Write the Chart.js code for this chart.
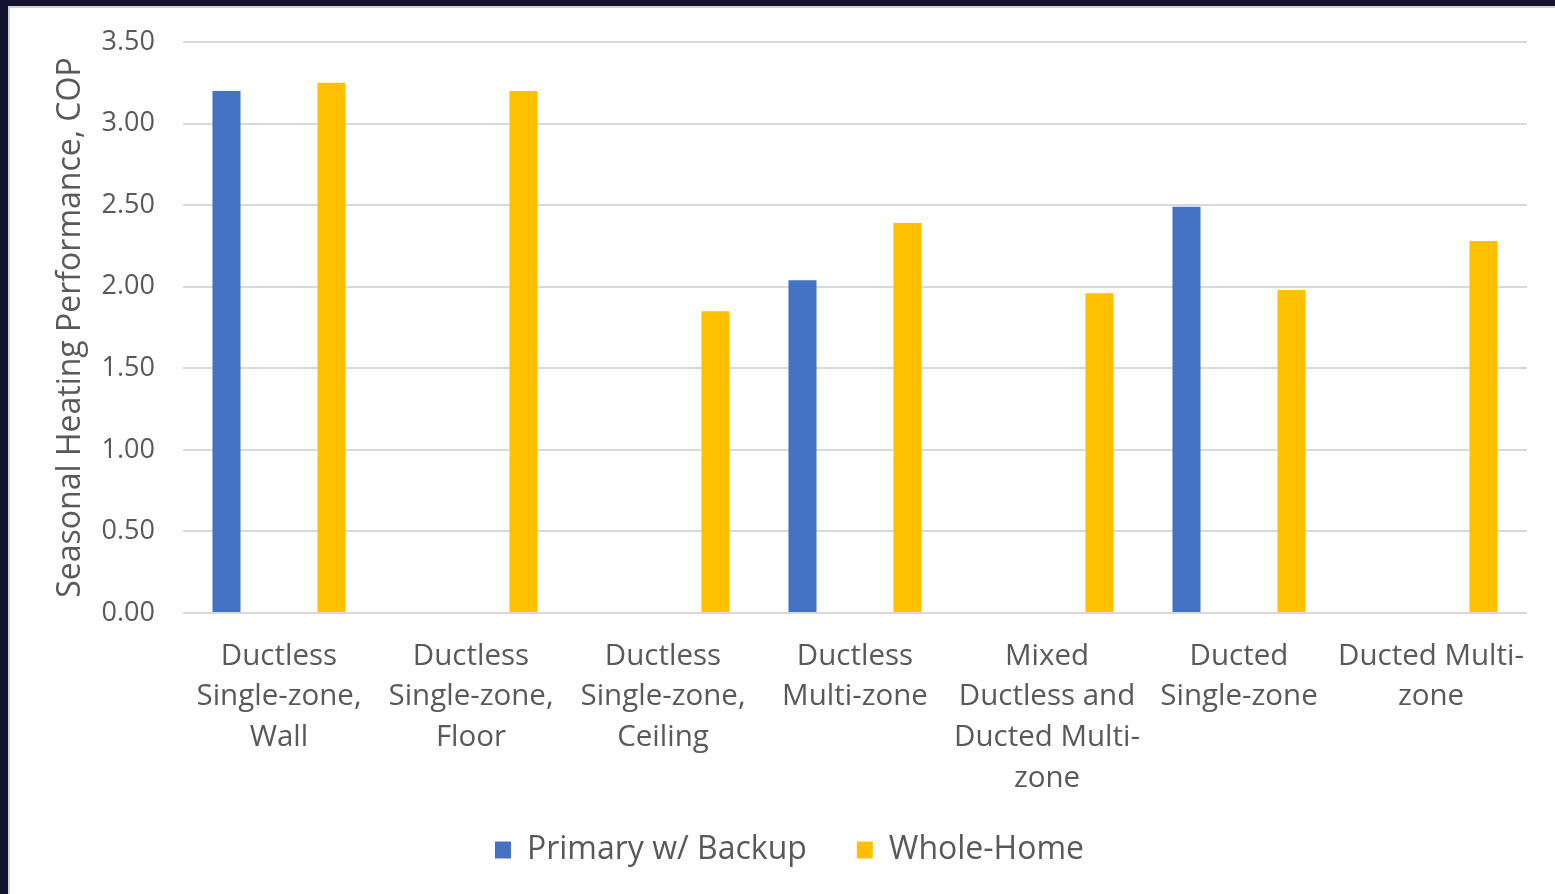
<!DOCTYPE html>
<html>
<head>
<meta charset="utf-8">
<script src="https://cdn.jsdelivr.net/npm/chart.js@4.4.1/dist/chart.umd.min.js"></script>
<style>
  html, body { margin: 0; padding: 0; background: #13132f; overflow: hidden; }
  #frame {
    position: absolute; left: 8px; top: 6px;
    width: 1545px; height: 886px;
    background: #fff;
    border-left: 2px solid #d4d4d8; border-top: 2px solid #d4d4d8;
  }
</style>
</head>
<body>
<div id="frame"><canvas id="myChart" width="1545" height="886"></canvas></div>
<script>
var categories = [
  ["Ductless", "Single-zone,", "Wall"],
  ["Ductless", "Single-zone,", "Floor"],
  ["Ductless", "Single-zone,", "Ceiling"],
  ["Ductless", "Multi-zone"],
  ["Mixed", "Ductless and", "Ducted Multi-", "zone"],
  ["Ducted", "Single-zone"],
  ["Ducted Multi-", "zone"]
];
var primaryBackup = [3.20, null, null, 2.04, null, 2.49, null];
var wholeHome = [3.25, 3.20, 1.85, 2.39, 1.96, 1.98, 2.28];
var yTicks = [0, 0.5, 1, 1.5, 2, 2.5, 3, 3.5];

var textColor = "#595959";
var fontName = "'Open Sans', sans-serif";

// x labels run past the axis box, so don't let the scale clip them
var labelRoom = {
  id: "labelRoom",
  afterLayout: function (chart) {
    chart.scales.x.bottom = chart.height;
  },
};

createChart();

function createChart() {
  const ctx = document.getElementById("myChart");
  new Chart(ctx, {
    type: "bar",
    data: {
      labels: categories,
      datasets: [
        {
          label: "Primary w/ Backup",
          data: primaryBackup,
          backgroundColor: "#4472C4",
        },
        {
          label: "Whole-Home",
          data: wholeHome,
          backgroundColor: "#FFC000",
        },
      ],
    },
    plugins: [labelRoom],
    options: {
      responsive: false,
      animation: false,
      categoryPercentage: 1.094,
      barPercentage: 0.267,
      layout: {
        padding: { left: 42, right: 28, top: 34, bottom: 18 },
      },
      plugins: {
        tooltip: { enabled: false },
        legend: {
          position: "bottom",
          labels: {
            color: textColor,
            font: { family: fontName, size: 32 },
            boxWidth: 16,
            boxHeight: 17,
            padding: 50,
          },
        },
      },
      scales: {
        x: {
          afterFit: function (scale) {
            scale.height = 171;
          },
          grid: { display: false, drawTicks: false },
          border: { display: false },
          ticks: {
            color: textColor,
            font: { family: fontName, size: 29.5, lineHeight: 1.38 },
            padding: 23,
            maxRotation: 0,
            autoSkip: false,
          },
        },
        y: {
          min: 0,
          max: 3.5,
          afterBuildTicks: function (scale) {
            scale.ticks = yTicks.map(function (v) { return { value: v }; });
          },
          afterFit: function (scale) {
            scale.width = 131;
            scale.paddingTop = 0;
            scale.paddingBottom = 0;
          },
          grid: { color: "#d9d9d9", lineWidth: 2, drawTicks: false },
          border: { display: false },
          ticks: {
            color: textColor,
            font: { family: fontName, size: 27 },
            padding: 28,
            callback: function (v) { return Number(v).toFixed(2); },
          },
          title: {
            display: true,
            text: "Seasonal Heating Performance, COP",
            color: textColor,
            font: { family: fontName, size: 32 },
            padding: { top: 0, bottom: 0 },
          },
        },
      },
    },
  });
}
</script>
</body>
</html>
